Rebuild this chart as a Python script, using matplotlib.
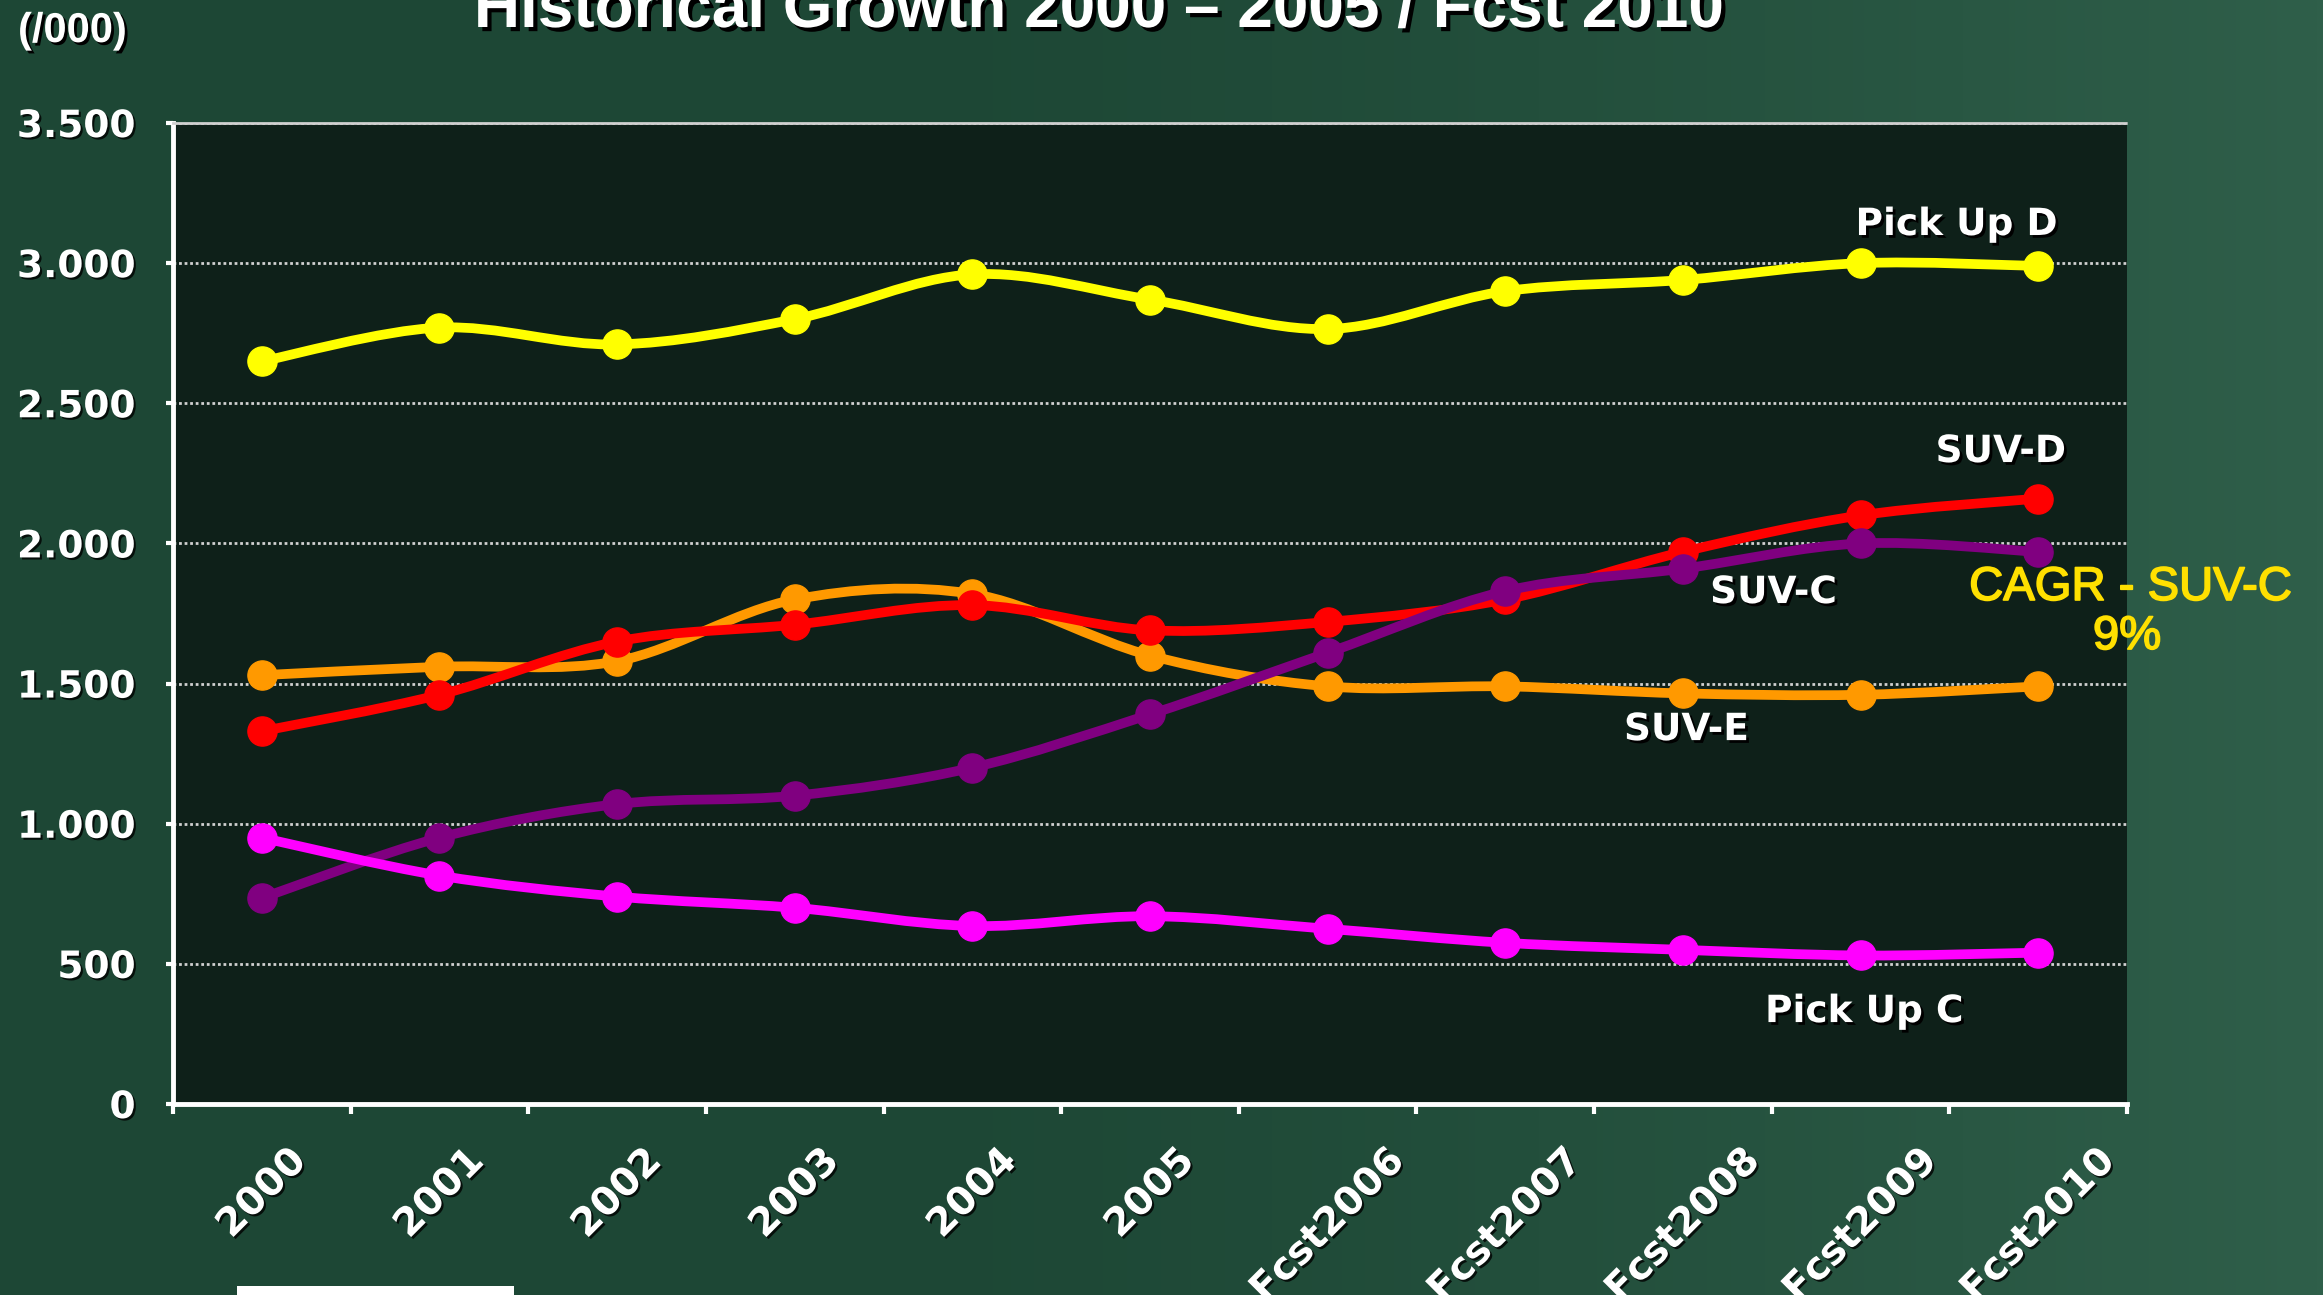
import numpy as np
import matplotlib
matplotlib.use("Agg")
import matplotlib.pyplot as plt
import matplotlib.patheffects as pe
from matplotlib.path import Path
from matplotlib.patches import PathPatch, Rectangle
from matplotlib.ticker import FixedLocator

# ---------------- data ----------------
categories = ["2000", "2001", "2002", "2003", "2004", "2005",
              "Fcst2006", "Fcst2007", "Fcst2008", "Fcst2009", "Fcst2010"]
pickup_d = [2650, 2770, 2710, 2800, 2960, 2870, 2765, 2900, 2940, 3000, 2990]
suv_e    = [1530, 1560, 1580, 1800, 1820, 1600, 1490, 1490, 1465, 1460, 1490]
suv_d    = [1330, 1460, 1650, 1710, 1780, 1690, 1720, 1800, 1970, 2100, 2160]
suv_c    = [735, 950, 1070, 1100, 1200, 1390, 1610, 1830, 1910, 2000, 1970]
pickup_c = [950, 815, 740, 700, 635, 670, 625, 575, 550, 530, 540]
y_ticks = [0, 500, 1000, 1500, 2000, 2500, 3000, 3500]
y_tick_labels = ["0", "500", "1.000", "1.500", "2.000", "2.500", "3.000", "3.500"]

series = [
    ("SUV-E", suv_e, "#FF9900"),
    ("SUV-D", suv_d, "#FF0000"),
    ("SUV-C", suv_c, "#800080"),
    ("Pick Up C", pickup_c, "#FF00FF"),
    ("Pick Up D", pickup_d, "#FFFF00"),
]

W, H, DPI = 2323, 1295, 100
fig = plt.figure(figsize=(W / DPI, H / DPI), dpi=DPI)

# background gradient (decoration)
bg = fig.add_axes([0, 0, 1, 1], zorder=-10)
t = np.linspace(0, 1, 400)
c1 = np.array([0x1d, 0x47, 0x35]) / 255
c2 = np.array([0x2f, 0x5f, 0x4a]) / 255
w = np.clip((t - 0.35) / 0.65, 0, 1) ** 1.5
row = c1[None, :] * (1 - w[:, None]) + c2[None, :] * w[:, None]
img = np.repeat(row[None, :, :], 50, axis=0)
bg.imshow(img, aspect="auto", extent=[0, 1, 0, 1])
bg.set_axis_off()

# main axes
left, right = 173 / W, 2127 / W
bottom, top = 1 - 1104 / H, 1 - 123 / H
ax = fig.add_axes([left, bottom, right - left, top - bottom], zorder=1)
ax.set_facecolor("#0e2019")

x = np.arange(len(categories))


def smooth_path(xs, ys):
    P = np.column_stack([xs, ys]).astype(float)
    n = len(P)
    verts = [P[0]]
    codes = [Path.MOVETO]
    for i in range(n - 1):
        p0 = P[i - 1] if i > 0 else P[i]
        p3 = P[i + 2] if i + 2 < n else P[i + 1]
        c_a = P[i] + (P[i + 1] - p0) / 6.0
        c_b = P[i + 1] - (p3 - P[i]) / 6.0
        verts += [c_a, c_b, P[i + 1]]
        codes += [Path.CURVE4] * 3
    return Path(verts, codes)


for k, (name, vals, col) in enumerate(series):
    patch = PathPatch(smooth_path(x, vals), fill=False, edgecolor=col, lw=7,
                      capstyle="round", joinstyle="round", zorder=3 + k)
    ax.add_patch(patch)
    ax.plot(x, vals, linestyle="none", marker="o", markersize=21,
            color=col, zorder=3 + k)

ax.set_xlim(-0.5, len(categories) - 0.5)
ax.set_ylim(0, 3500)

# grid
ax.yaxis.set_major_locator(FixedLocator(y_ticks))
ax.set_yticklabels(y_tick_labels)
ax.grid(axis="y", color="#d0d0d0", lw=2.0, linestyle=(0, (1, 1)), zorder=1)
ax.set_axisbelow(True)

# spines
ax.spines["right"].set_visible(False)
ax.spines["top"].set_color("#d0d0d0")
ax.spines["top"].set_linewidth(2.0)
ax.spines["top"].set_linestyle((0, (1, 1)))
ax.spines["left"].set_color("white")
ax.spines["left"].set_linewidth(3.5)
ax.spines["bottom"].set_color("white")
ax.spines["bottom"].set_linewidth(3.5)

txt_shadow = [pe.withSimplePatchShadow(offset=(1.5, -1.5), shadow_rgbFace="black", alpha=0.8)]

# ticks
ax.tick_params(axis="y", colors="white", length=5, width=3, pad=22)
for lab in ax.get_yticklabels():
    lab.set_fontfamily("DejaVu Sans")
    lab.set_fontweight("bold")
    lab.set_fontsize(27)
    lab.set_color("white")
    lab.set_path_effects(txt_shadow)

ax.set_xticks(x)
ax.set_xticklabels(categories, rotation=45, ha="center", fontsize=28,
                   fontweight="bold", fontfamily="DejaVu Sans", color="white")
ax.tick_params(axis="x", which="major", length=0, pad=27)
ax.xaxis.set_minor_locator(FixedLocator(np.arange(-0.5, len(categories), 1.0)))
ax.tick_params(axis="x", which="minor", length=7, width=3, colors="white")
for lab in ax.get_xticklabels():
    lab.set_path_effects(txt_shadow)

shadow = [pe.withSimplePatchShadow(offset=(2, -2), shadow_rgbFace="black", alpha=1.0)]

# series labels
labels = [
    ("Pick Up D", 9.54, 3136),
    ("SUV-D", 9.79, 2326),
    ("SUV-C", 8.51, 1823),
    ("SUV-E", 8.02, 1334),
    ("Pick Up C", 9.02, 328),
]
for txt, lx, ly in labels:
    ax.text(lx, ly, txt, ha="center", va="center", fontsize=27, fontweight="bold",
            fontfamily="DejaVu Sans", color="white", path_effects=shadow, zorder=20)

ax.text(10.52, 1841, "CAGR - SUV-C", ha="center", va="center", fontsize=34,
        fontfamily="Liberation Sans", color="#FFE000", clip_on=False, zorder=20,
        path_effects=[pe.withStroke(linewidth=1.2, foreground="#FFE000")])
ax.text(10.50, 1666, "9%", ha="center", va="center", fontsize=34,
        fontfamily="Liberation Sans", color="#FFE000", clip_on=False, zorder=20,
        path_effects=[pe.withStroke(linewidth=1.2, foreground="#FFE000")])

# title and unit
fig.text(1098.6 / W, 1 - 27 / H, "Historical Growth 2000 \u2013 2005 / Fcst 2010",
         ha="center", va="baseline", fontsize=46, fontweight="bold",
         fontfamily="Liberation Sans", color="white",
         path_effects=[pe.withSimplePatchShadow(offset=(3, -3), shadow_rgbFace="black", alpha=1.0)])
fig.text(18 / W, 1 - 31 / H, "(/000)", ha="left", va="center", fontsize=30,
         fontweight="bold", fontfamily="Liberation Sans", color="white",
         path_effects=shadow)

# small white logo box at bottom-left
fig.patches.append(Rectangle((237 / W, 0), (514 - 237) / W, 9 / H,
                             transform=fig.transFigure, facecolor="white",
                             edgecolor="none", zorder=5))

fig.savefig("out.png", dpi=DPI)
